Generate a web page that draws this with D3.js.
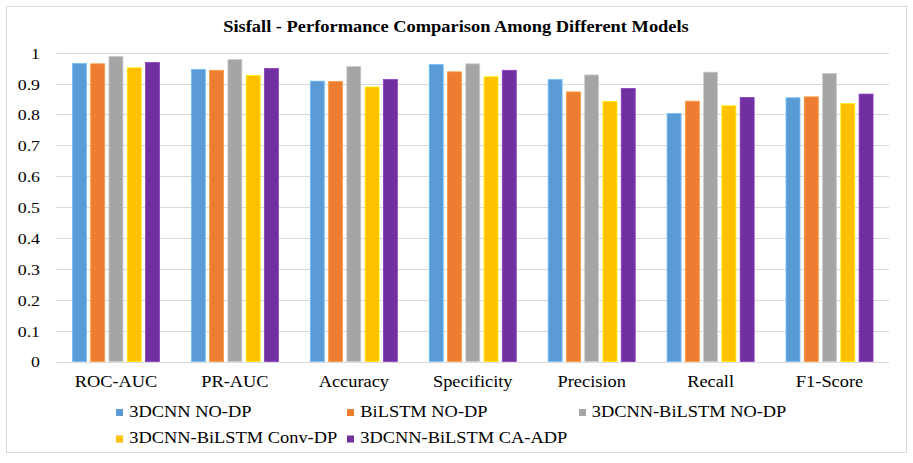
<!DOCTYPE html>
<html><head><meta charset="utf-8">
<script src="https://cdn.jsdelivr.net/npm/d3@7"></script>
<style>body{margin:0;background:#fff}svg{display:block}text{font-family:"Liberation Serif","Times New Roman",serif;fill:#000}</style>
</head><body><svg id="c" width="913" height="463"></svg>
<script>
const categories = ["ROC-AUC","PR-AUC","Accuracy","Specificity","Precision","Recall","F1-Score"];
const seriesNames = ["3DCNN NO-DP","BiLSTM NO-DP","3DCNN-BiLSTM NO-DP","3DCNN-BiLSTM Conv-DP","3DCNN-BiLSTM CA-ADP"];
const cnnNoDP    = [0.965,0.946,0.908,0.962,0.913,0.803,0.854];
const bilstmNoDP = [0.964,0.943,0.907,0.938,0.873,0.843,0.857];
const hybridNoDP = [0.988,0.978,0.955,0.964,0.928,0.937,0.933];
const hybridConv = [0.951,0.926,0.889,0.922,0.842,0.828,0.835];
const hybridCA   = [0.968,0.949,0.913,0.943,0.884,0.855,0.866];
const yTicks = [0,0.1,0.2,0.3,0.4,0.5,0.6,0.7,0.8,0.9,1];
const colors = ["#5B9BD5","#ED7D31","#A5A5A5","#FFC000","#7030A0"];
const series = [cnnNoDP,bilstmNoDP,hybridNoDP,hybridConv,hybridCA];

const svg = d3.select("#c");
const SX = 1.15;
svg.append("rect").attr("x",6.5).attr("y",6.5).attr("width",900).attr("height",446)
  .attr("fill","#fff").attr("stroke","#d9d9d9").attr("stroke-width",1);

const x0 = d3.scaleBand().domain(categories).range([56.5,889]).paddingInner(0.268).paddingOuter(0.134);
const x1 = d3.scaleBand().domain(d3.range(5)).range([0,x0.bandwidth()]).paddingInner(0.235);
const y = d3.scaleLinear().domain([0,1]).range([361.5,52.7]);

// gridlines
svg.append("g").selectAll("line").data(yTicks).join("line")
  .attr("x1",56.5).attr("x2",889).attr("y1",d=>Math.round(y(d))+0.5).attr("y2",d=>Math.round(y(d))+0.5)
  .attr("stroke","#d9d9d9").attr("stroke-width",1);

// y axis labels via axis
const yAxis = d3.axisLeft(y).tickValues(yTicks).tickSize(0).tickPadding(0).tickFormat(d=>String(d));
const ga = svg.append("g").attr("transform","translate(40,0)").call(yAxis);
ga.select(".domain").remove();
ga.selectAll("text").attr("font-size",15.5).attr("font-family","Liberation Serif").attr("fill","#000")
  .attr("dy","0.35em").attr("x",0)
  .attr("transform",function(){return null;});
ga.selectAll(".tick text").each(function(){
  const t=d3.select(this); t.attr("transform",`scale(${SX},1)`).attr("x",0);
});

// bars
const groups = svg.append("g").selectAll("g").data(categories).join("g")
  .attr("transform",d=>`translate(${x0(d)},0)`);
groups.selectAll("rect").data((c,i)=>series.map((s,k)=>({k,v:s[i]}))).join("rect")
  .attr("x",d=>x1(d.k)).attr("width",x1.bandwidth())
  .attr("y",d=>y(d.v)).attr("height",d=>y(0)-y(d.v))
  .attr("fill",d=>colors[d.k])
  .attr("stroke",d=>d3.color(colors[d.k]).brighter(0.6)).attr("stroke-width",0.8);

// x axis labels
const xAxis = d3.axisBottom(x0).tickSize(0).tickPadding(0);
const gx = svg.append("g").attr("transform","translate(0,361.5)").call(xAxis);
gx.select(".domain").remove();
gx.selectAll("text").attr("font-size",17.5).attr("font-family","Liberation Serif").attr("fill","#000").attr("dy",0).attr("y",25.5)
  .attr("transform",`scale(1.05,1)`).attr("x",function(d){return 0;});
gx.selectAll(".tick").each(function(){
  const tr = d3.select(this).attr("transform");
  const m = /translate\(([^,]+),/.exec(tr); const cx = +m[1];
  d3.select(this).attr("transform",`translate(${cx},0)`);
});

// title
svg.append("text").attr("x",456/SX).attr("y",31.7).attr("text-anchor","middle")
  .attr("font-size",16).attr("font-weight","bold").attr("transform",`scale(${SX},1)`)
  .text("Sisfall - Performance Comparison Among Different Models");

// legend
const legPos = [[116,409],[347,409],[579,409],[116,435.5],[347,435.5]];
const leg = svg.append("g").selectAll("g").data(seriesNames).join("g")
  .attr("transform",(d,i)=>`translate(${legPos[i][0]},${legPos[i][1]})`);
leg.append("rect").attr("width",7).attr("height",7).attr("fill",(d,i)=>colors[i]);
leg.append("text").attr("x",(d,i)=>(i===2?12.7:13.3)/SX).attr("y",7.8).attr("font-size",16)
  .attr("transform",`scale(${SX},1)`).text(d=>d);
</script></body></html>
